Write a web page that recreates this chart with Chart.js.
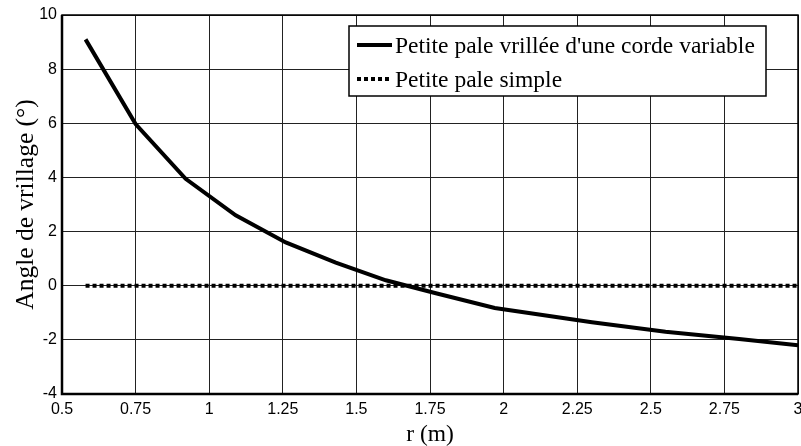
<!DOCTYPE html>
<html>
<head>
<meta charset="utf-8">
<script src="https://cdn.jsdelivr.net/npm/chart.js@4"></script>
<style>
  html, body { margin: 0; padding: 0; background: #fff; }
  #wrap { width: 801px; height: 446px; position: relative; }
</style>
</head>
<body>
<div id="wrap"><canvas id="myChart" width="801" height="446"></canvas></div>
<script>
// values
const rTwisted = [0.58, 0.75, 0.92, 1.09, 1.26, 1.43, 1.60, 1.77, 1.97, 2.30, 2.55, 2.80, 3.0];
const angleTwisted = [9.1, 5.97, 3.95, 2.6, 1.6, 0.85, 0.2, -0.28, -0.82, -1.35, -1.7, -1.97, -2.2];
const rSimple = [0.58, 3.0];
const angleSimple = [0, 0];

const xTicks = [0.5, 0.75, 1, 1.25, 1.5, 1.75, 2, 2.25, 2.5, 2.75, 3];
const yTicks = [-4, -2, 0, 2, 4, 6, 8, 10];

const labelTwisted = "Petite pale vrillée d'une corde variable";
const labelSimple = "Petite pale simple";

const serif = "'Liberation Serif', 'Times New Roman', serif";
const sans = "'Liberation Sans', Arial, sans-serif";

// matlab style box legend, top right inside the axes
const boxLegend = {
  id: "boxLegend",
  afterDraw(chart) {
    const ctx = chart.ctx;
    const x0 = 349, y0 = 26, w = 417, h = 70;
    ctx.save();
    ctx.fillStyle = "#fff";
    ctx.fillRect(x0, y0, w, h);
    ctx.strokeStyle = "#000";
    ctx.lineWidth = 1.5;
    ctx.strokeRect(x0, y0, w, h);
    ctx.font = "23.5px " + serif;
    ctx.textBaseline = "alphabetic";
    ctx.fillStyle = "#000";
    chart.data.datasets.forEach((ds, i) => {
      const y = y0 + 19 + i * 34;
      ctx.beginPath();
      ctx.lineWidth = ds.borderWidth;
      ctx.setLineDash(ds.borderDash || []);
      ctx.moveTo(357, y);
      ctx.lineTo(392, y);
      ctx.stroke();
      ctx.setLineDash([]);
      ctx.fillText(ds.label, 395, y + 8);
    });
    ctx.restore();
  },
};

// closed frame round the axes
const frame = {
  id: "frame",
  afterDatasetsDraw(chart) {
    const a = chart.chartArea;
    const ctx = chart.ctx;
    ctx.save();
    ctx.strokeStyle = "#000";
    ctx.lineWidth = 1.5;
    ctx.strokeRect(a.left, a.top, a.right - a.left, a.bottom - a.top);
    ctx.lineWidth = 2.5;
    ctx.beginPath();
    ctx.moveTo(a.left, a.top);
    ctx.lineTo(a.left, a.bottom);
    ctx.lineTo(a.right, a.bottom);
    ctx.stroke();
    ctx.restore();
  },
};

new Chart(document.getElementById("myChart"), {
  type: "line",
  data: {
    datasets: [
      {
        label: labelTwisted,
        data: rTwisted.map((r, i) => ({ x: r, y: angleTwisted[i] })),
        borderColor: "#000",
        borderWidth: 4,
        pointRadius: 0,
        tension: 0,
      },
      {
        label: labelSimple,
        data: rSimple.map((r, i) => ({ x: r, y: angleSimple[i] })),
        borderColor: "#000",
        borderWidth: 4,
        borderDash: [4, 3],
        pointRadius: 0,
      },
    ],
  },
  plugins: [frame, boxLegend],
  options: {
    responsive: false,
    animation: false,
    layout: { padding: { top: 15, right: 3, left: 0, bottom: 0 } },
    plugins: { legend: { display: false }, tooltip: { enabled: false } },
    scales: {
      x: {
        type: "linear",
        min: 0.5,
        max: 3,
        afterBuildTicks: (s) => { s.ticks = xTicks.map((v) => ({ value: v })); },
        afterFit: (s) => { s.height = 52; s.paddingRight = 0; s.paddingLeft = 0; },
        grid: { color: "#222", lineWidth: 1, drawTicks: false },
        border: { display: false },
        ticks: {
          color: "#000",
          font: { family: sans, size: 16 },
          padding: 6,
          maxRotation: 0,
          autoSkip: false,
          callback: (v) => String(v),
        },
        title: {
          display: true,
          text: "r (m)",
          color: "#000",
          font: { family: serif, size: 23.5, lineHeight: 1 },
          padding: { top: 0, bottom: -1 },
        },
      },
      y: {
        min: -4,
        max: 10,
        afterBuildTicks: (s) => { s.ticks = yTicks.map((v) => ({ value: v })); },
        afterFit: (s) => { s.width = 62; },
        grid: { color: "#222", lineWidth: 1, drawTicks: false },
        border: { display: false },
        ticks: {
          color: "#000",
          font: { family: sans, size: 16 },
          padding: 5,
          autoSkip: false,
          callback: (v) => String(v),
        },
        title: {
          display: true,
          text: "Angle de vrillage (°)",
          color: "#000",
          font: { family: serif, size: 25.5, lineHeight: 1 },
          padding: { top: 14, bottom: 0 },
        },
      },
    },
  },
});
</script>
</body>
</html>
